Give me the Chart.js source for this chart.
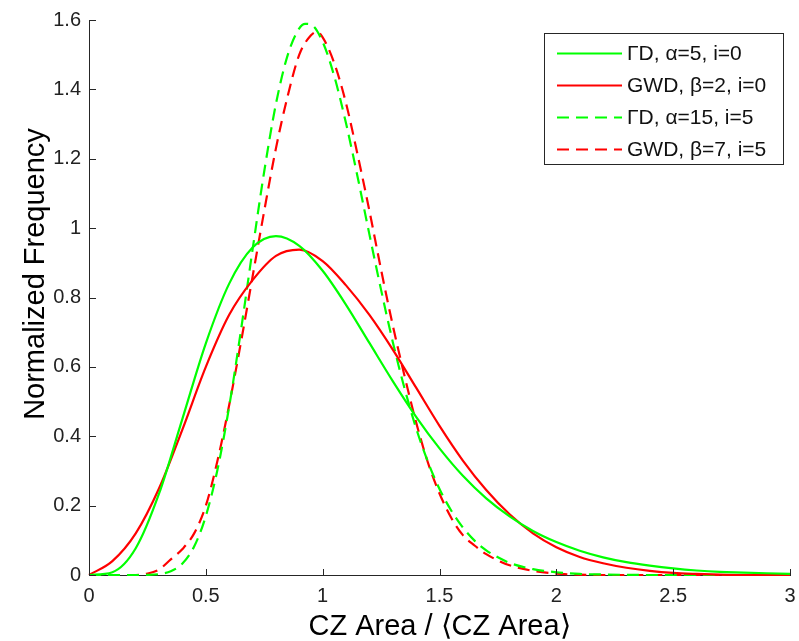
<!DOCTYPE html>
<html>
<head>
<meta charset="utf-8">
<title>CZ area distribution</title>
<script src="https://cdn.jsdelivr.net/npm/chart.js@4.4.1/dist/chart.umd.min.js"></script>
<style>
  html, body { margin: 0; padding: 0; background: #fff; }
  canvas { display: block; }
</style>
</head>
<body>
<canvas id="czChart" width="799" height="641"></canvas>
<script>
// x grid for the two i=0 curves
const solidX = [0, 0.1, 0.2, 0.3, 0.4, 0.5, 0.6, 0.7, 0.8, 0.9, 1.0, 1.1, 1.2, 1.3, 1.4, 1.5,
  1.6, 1.7, 1.8, 1.9, 2.0, 2.1, 2.2, 2.3, 2.4, 2.5, 2.6, 2.7, 2.8, 2.9, 3.0];
const gammaA5 = [0, 0.008, 0.077, 0.235, 0.451, 0.668, 0.840, 0.944, 0.977, 0.949, 0.877, 0.779,
  0.669, 0.559, 0.456, 0.365, 0.286, 0.221, 0.169, 0.127, 0.095, 0.070, 0.051, 0.037, 0.027,
  0.019, 0.013, 0.009, 0.007, 0.005, 0.003];
const gwdB2 = [0, 0.04, 0.12, 0.25, 0.42, 0.60, 0.75, 0.85, 0.92, 0.938, 0.905, 0.835,
  0.75, 0.65, 0.54, 0.43, 0.33, 0.245, 0.175, 0.12, 0.08, 0.052, 0.034, 0.021, 0.012,
  0.006, 0.003, 0.001, 0, 0, 0];

// i=5 curves are much narrower, so they get a finer grid
const gammaA15X = [0, 0.2, 0.25, 0.3, 0.35, 0.4, 0.45, 0.5, 0.55, 0.6, 0.65, 0.7, 0.75, 0.8,
  0.85, 0.9, 0.925, 0.95, 1.0, 1.05, 1.1, 1.15, 1.2, 1.25, 1.3, 1.35, 1.4, 1.45, 1.5, 1.55,
  1.6, 1.65, 1.7, 1.75, 1.8, 1.9, 2.0, 2.1, 2.2, 2.4, 3.0];
const gammaA15 = [0, 0, 0.0004, 0.0027, 0.011, 0.033, 0.082, 0.170, 0.304, 0.486, 0.704, 0.938,
  1.164, 1.358, 1.498, 1.576, 1.589, 1.587, 1.537, 1.437, 1.302, 1.146, 0.982, 0.822, 0.672,
  0.539, 0.423, 0.327, 0.248, 0.186, 0.137, 0.099, 0.071, 0.051, 0.035, 0.017, 0.008, 0.003,
  0.0015, 0, 0];
const gwdB7X = [0, 0.2, 0.25, 0.3, 0.35, 0.4, 0.45, 0.5, 0.55, 0.6, 0.65, 0.7, 0.75, 0.8,
  0.85, 0.9, 0.95, 0.975, 1.0, 1.05, 1.1, 1.15, 1.2, 1.25, 1.3, 1.35, 1.4, 1.45, 1.5, 1.55,
  1.6, 1.65, 1.7, 1.75, 1.8, 1.9, 2.0, 2.1, 2.2, 2.4, 3.0];
const gwdB7 = [0, 0, 0.004, 0.016, 0.045, 0.075, 0.12, 0.2, 0.33, 0.49, 0.67, 0.86,
  1.05, 1.23, 1.38, 1.50, 1.556, 1.566, 1.55, 1.475, 1.36, 1.21, 1.05, 0.88, 0.72,
  0.575, 0.44, 0.325, 0.235, 0.165, 0.115, 0.085, 0.06, 0.042, 0.028, 0.012, 0.004, 0.001,
  0, 0, 0];

const seriesLabels = ["\u0393D, \u03b1=5, i=0", "GWD, \u03b2=2, i=0", "\u0393D, \u03b1=15, i=5", "GWD, \u03b2=7, i=5"];
const xTicks = [0, 0.5, 1, 1.5, 2, 2.5, 3];
const yTicks = [0, 0.2, 0.4, 0.6, 0.8, 1, 1.2, 1.4, 1.6];
const xTitle = "CZ Area / \u27e8CZ Area\u27e9";
const yTitle = "Normalized Frequency";

const GREEN = "#00ff00";
const RED = "#ff0000";
const AXIS = "#262626";
const FONT = "'Liberation Sans', Arial, sans-serif";
const DASH = [12, 7];

const toPoints = (xs, ys) => xs.map((x, i) => ({ x: x, y: ys[i] }));

const line = (label, xs, ys, color, dash) => ({
  label: label,
  data: toPoints(xs, ys),
  borderColor: color,
  backgroundColor: color,
  borderWidth: 2.2,
  borderDash: dash,
  pointRadius: 0,
  showLine: true,
  fill: false,
  cubicInterpolationMode: "monotone",
  clip: false,
});

// inward tick marks, boxed legend and the axis titles
const decorations = {
  id: "decorations",
  afterDraw(chart) {
    const { ctx, chartArea: a, scales: { x, y } } = chart;
    ctx.save();
    ctx.strokeStyle = AXIS;
    ctx.lineWidth = 1;
    ctx.beginPath();
    xTicks.forEach((v) => {
      const px = Math.round(x.getPixelForValue(v)) + 0.5;
      ctx.moveTo(px, a.bottom);
      ctx.lineTo(px, a.bottom - 6);
    });
    yTicks.forEach((v) => {
      const py = Math.round(y.getPixelForValue(v)) + 0.5;
      ctx.moveTo(a.left, py);
      ctx.lineTo(a.left + 7, py);
    });
    ctx.stroke();

    // legend
    const box = { left: 544.5, top: 33.5, width: 239, height: 131 };
    ctx.fillStyle = "#fff";
    ctx.fillRect(box.left, box.top, box.width, box.height);
    ctx.strokeRect(box.left, box.top, box.width, box.height);
    ctx.font = "21px " + FONT;
    ctx.textBaseline = "middle";
    ctx.textAlign = "left";
    chart.data.datasets.forEach((ds, i) => {
      const ry = 53.5 + i * 32;
      ctx.beginPath();
      ctx.strokeStyle = ds.borderColor;
      ctx.lineWidth = 2.2;
      ctx.setLineDash(ds.borderDash || []);
      ctx.moveTo(557, ry);
      ctx.lineTo(622, ry);
      ctx.stroke();
      ctx.setLineDash([]);
      ctx.fillStyle = "#111";
      ctx.fillText(ds.label, 627, ry + 1);
    });

    // axis titles
    ctx.fillStyle = "#000";
    ctx.font = "29px " + FONT;
    ctx.textAlign = "center";
    ctx.textBaseline = "alphabetic";
    ctx.fillText(xTitle, (a.left + a.right) / 2, 635);
    ctx.translate(43.5, 274);
    ctx.rotate(-Math.PI / 2);
    ctx.fillText(yTitle, 0, 0);
    ctx.restore();
  },
};

const ctx = document.getElementById("czChart").getContext("2d");
new Chart(ctx, {
  type: "scatter",
  data: {
    datasets: [
      line(seriesLabels[0], solidX, gammaA5, GREEN, []),
      line(seriesLabels[1], solidX, gwdB2, RED, []),
      line(seriesLabels[2], gammaA15X, gammaA15, GREEN, DASH),
      line(seriesLabels[3], gwdB7X, gwdB7, RED, DASH),
    ],
  },
  options: {
    responsive: false,
    animation: false,
    devicePixelRatio: 1,
    layout: { padding: { left: 0, right: 9, top: 20, bottom: 0 } },
    plugins: {
      legend: { display: false },
      tooltip: { enabled: false },
    },
    scales: {
      x: {
        type: "linear",
        min: 0,
        max: 3,
        afterBuildTicks: (s) => { s.ticks = xTicks.map((v) => ({ value: v })); },
        afterFit: (s) => {
          s.height = 66;
          s.paddingLeft = 0;
          s.paddingRight = 0;
        },
        grid: { display: false, drawTicks: false },
        border: { display: true, color: AXIS, width: 1 },
        ticks: {
          padding: 9,
          color: "#222",
          font: { family: FONT, size: 20 },
          maxRotation: 0,
          callback: (v) => String(v),
        },
      },
      y: {
        type: "linear",
        min: 0,
        max: 1.6,
        afterBuildTicks: (s) => { s.ticks = yTicks.map((v) => ({ value: v })); },
        afterFit: (s) => {
          s.width = 89;
          s.paddingTop = 0;
          s.paddingBottom = 0;
        },
        grid: { display: false, drawTicks: false },
        border: { display: true, color: AXIS, width: 1 },
        ticks: {
          padding: 8,
          color: "#222",
          font: { family: FONT, size: 20 },
          callback: (v) => String(v),
        },
      },
    },
  },
  plugins: [decorations],
});
</script>
</body>
</html>
